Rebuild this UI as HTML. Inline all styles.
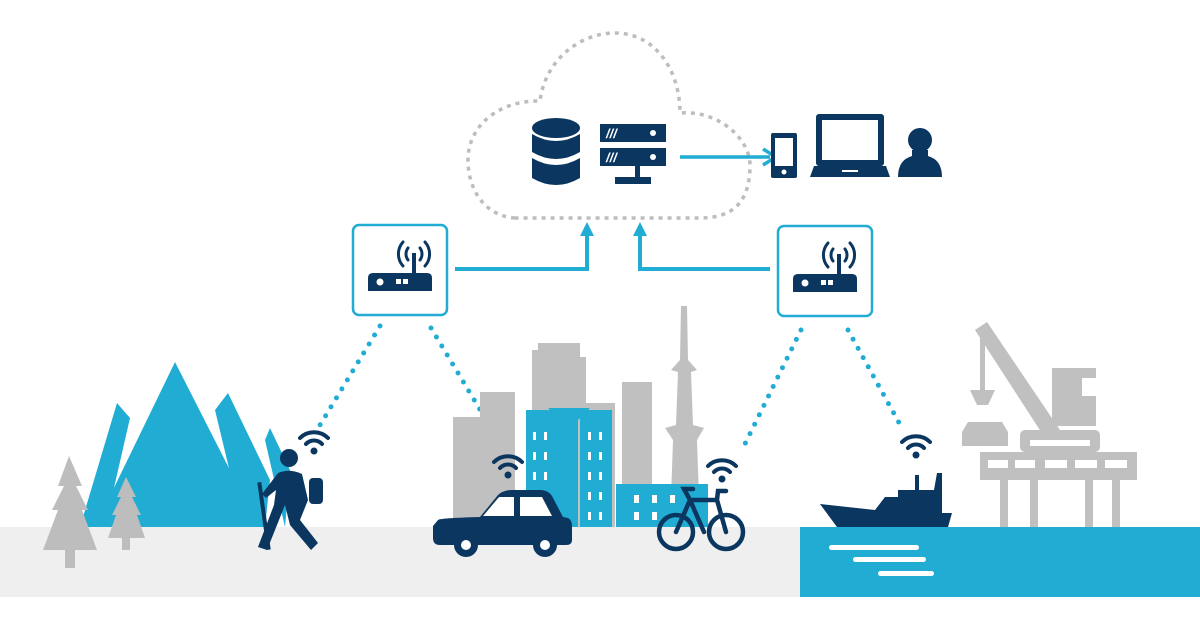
<!DOCTYPE html>
<html><head><meta charset="utf-8"><style>html,body{margin:0;padding:0;background:#fff}svg{display:block}</style></head>
<body>
<svg width="1200" height="630" viewBox="0 0 1200 630" xmlns="http://www.w3.org/2000/svg">
<defs>
<g id="wifi" fill="none" stroke="#0b3660" stroke-width="4" stroke-linecap="round">
<path d="M-14 -6 A20 20 0 0 1 14 -6"/><path d="M-8 0 A11 11 0 0 1 8 0"/>
<circle cx="0" cy="7" r="3.5" fill="#0b3660" stroke="none"/>
</g>
<g id="router">
<rect x="-47" y="-45" width="94" height="90" rx="6" fill="#fff" stroke="#21acd3" stroke-width="2.5"/>
<path d="M-32 8 Q-32 3 -27 3 L27 3 Q32 3 32 8 L32 21 L-32 21 Z" fill="#0b3660"/>
<circle cx="-20" cy="12" r="3.5" fill="#fff"/><rect x="-4" y="9" width="5" height="5" fill="#fff"/><rect x="3" y="9" width="5" height="5" fill="#fff"/>
<rect x="12" y="-17" width="4" height="20" fill="#0b3660"/>
<g fill="none" stroke="#0b3660" stroke-width="3" stroke-linecap="round">
<path d="M8 -22 A10 10 0 0 0 8 -10"/><path d="M20 -22 A10 10 0 0 1 20 -10"/>
<path d="M3 -28 A18 18 0 0 0 3 -4"/><path d="M25 -28 A18 18 0 0 1 25 -4"/>
</g>
</g>
</defs>
<rect x="0" y="527" width="800" height="70" fill="#efefef"/>
<path d="M515 218 C485 216 468 190 468 160 C468 125 500 100 540 101 C545 60 580 33 615 33 C655 33 680 70 680 113 C720 110 750 140 750 165 C750 200 735 218 700 218 Z" fill="none" stroke="#bdbdbd" stroke-width="3.5" stroke-dasharray="4 5"/>
<g fill="#0b3660">
<ellipse cx="556" cy="128" rx="24" ry="10"/>
<path d="M532 134 Q556 148 580 134 L580 152 Q556 166 532 152 Z"/>
<path d="M532 158 Q556 172 580 158 L580 178 Q556 192 532 178 Z"/>
<rect x="600" y="124" width="66" height="18"/><rect x="600" y="148" width="66" height="18"/>
<rect x="635" y="164" width="5" height="14"/><rect x="615" y="177" width="36" height="7"/>
</g>
<g fill="#fff"><circle cx="653" cy="133" r="3"/><circle cx="653" cy="157" r="3"/>
<text x="606" y="138" font-family="Liberation Sans,sans-serif" font-size="13" font-style="italic" font-weight="bold" fill="#fff">///</text>
<text x="606" y="162" font-family="Liberation Sans,sans-serif" font-size="13" font-style="italic" font-weight="bold" fill="#fff">///</text></g>
<line x1="680" y1="157" x2="770" y2="157" stroke="#21acd3" stroke-width="3.5"/>
<path d="M763 149 L776 157 L763 165" fill="none" stroke="#21acd3" stroke-width="3.5"/>
<rect x="771" y="133" width="26" height="45" rx="2" fill="#0b3660"/><rect x="775" y="138" width="18" height="28" fill="#fff"/><circle cx="784" cy="172" r="2.5" fill="#fff"/>
<rect x="816" y="114" width="68" height="52" rx="3" fill="#0b3660"/><rect x="822" y="120" width="56" height="40" fill="#fff"/>
<path d="M814 166 L886 166 L890 177 L810 177 Z" fill="#0b3660"/><rect x="842" y="170" width="16" height="2" fill="#fff"/>
<circle cx="920" cy="140" r="12" fill="#0b3660"/><path d="M912 150 L928 150 L928 156 Q942 160 942 177 L898 177 Q898 160 912 156 Z" fill="#0b3660"/>
<use href="#router" x="400" y="270"/>
<use href="#router" x="825" y="271"/>
<path d="M455 269 L587 269 L587 228" fill="none" stroke="#21acd3" stroke-width="4"/>
<path d="M580 236 L587 222 L594 236 Z" fill="#21acd3"/>
<path d="M770 269 L640 269 L640 228" fill="none" stroke="#21acd3" stroke-width="4"/>
<path d="M633 236 L640 222 L647 236 Z" fill="#21acd3"/>
<g stroke="#21acd3" stroke-width="5" stroke-linecap="round" stroke-dasharray="0 10.5">
<line x1="380" y1="326" x2="320" y2="425"/>
<line x1="431" y1="328" x2="503" y2="448"/>
<line x1="801" y1="330" x2="741" y2="452"/>
<line x1="848" y1="330" x2="903" y2="430"/>
</g>
<g fill="#21acd3">
<path d="M80 527 L117 403 L130 418 L105 527 Z"/>
<path d="M95 527 L175 362 L235 480 L240 527 Z"/>
<path d="M215 410 L228 393 L270 480 L265 527 L235 527 L233 485 Z"/>
<path d="M265 440 L270 428 L290 470 L285 527 Z"/>
</g>
<g fill="#bdbdbd">
<path d="M69 456 L82 486 L76 486 L88 510 L82 510 L97 550 L43 550 L58 510 L52 510 L64 486 L58 486 Z"/><rect x="65" y="548" width="10" height="20"/>
<path d="M126 477 L136 497 L132 497 L141 515 L137 515 L145 538 L108 538 L116 515 L112 515 L121 497 L117 497 Z"/><rect x="122" y="536" width="8" height="14"/>
</g>
<g fill="#0b3660">
<circle cx="289" cy="458" r="9"/>
<path d="M278 473 Q290 468 302 474 L308 500 L300 520 L318 543 L311 550 L290 525 L285 505 L277 525 L267 550 L258 547 L274 505 L276 490 L266 498 L262 494 Z"/>
<rect x="309" y="478" width="14" height="26" rx="4"/>
<rect x="262" y="482" width="4" height="68" transform="rotate(-8 264 516)"/>
</g>
<use href="#wifi" x="314" y="444"/>
<g fill="#c0c0c0">
<rect x="453" y="417" width="35" height="110"/>
<rect x="480" y="392" width="35" height="135"/>
<rect x="532" y="350" width="30" height="177"/><rect x="538" y="343" width="42" height="15"/><rect x="532" y="357" width="54" height="170"/>
<rect x="575" y="403" width="40" height="124"/>
<rect x="622" y="382" width="30" height="145"/>
<path d="M681 306 L687 306 L688 360 L697 370 L691 372 L693 425 L704 428 L697 440 L700 527 L670 527 L673 440 L665 428 L676 425 L678 372 L671 370 L680 360 Z"/>
</g>
<g fill="#21acd3">
<rect x="526" y="410" width="40" height="117"/>
<rect x="580" y="410" width="32" height="117"/>
<path d="M548 408 L590 408 L578 420 L578 527 L561 527 L561 420 Z"/>
<rect x="616" y="484" width="92" height="43"/>
</g>
<g fill="#fff">
<rect x="533" y="432" width="3" height="8"/><rect x="544" y="432" width="3" height="8"/>
<rect x="533" y="452" width="3" height="8"/><rect x="544" y="452" width="3" height="8"/>
<rect x="533" y="472" width="3" height="8"/><rect x="544" y="472" width="3" height="8"/>
<rect x="533" y="492" width="3" height="8"/><rect x="544" y="492" width="3" height="8"/>
<rect x="588" y="432" width="3" height="8"/><rect x="599" y="432" width="3" height="8"/>
<rect x="588" y="452" width="3" height="8"/><rect x="599" y="452" width="3" height="8"/>
<rect x="588" y="472" width="3" height="8"/><rect x="599" y="472" width="3" height="8"/>
<rect x="588" y="492" width="3" height="8"/><rect x="599" y="492" width="3" height="8"/>
<rect x="588" y="512" width="3" height="8"/><rect x="599" y="512" width="3" height="8"/>
<rect x="634" y="495" width="5" height="8"/><rect x="652" y="495" width="5" height="8"/><rect x="670" y="495" width="5" height="8"/>
<rect x="634" y="512" width="5" height="8"/><rect x="652" y="512" width="5" height="8"/>
</g>
<g fill="#0b3660">
<path d="M438 520 Q440 518 480 517 L498 495 Q503 490 512 490 L540 490 Q548 490 552 496 L563 517 L568 518 Q572 520 572 526 L572 540 Q572 545 566 545 L440 545 Q433 545 433 538 L433 526 Z"/>
<circle cx="466" cy="545" r="12"/><circle cx="545" cy="545" r="12"/>
</g>
<path d="M483 516 L499 497 L514 497 L514 516 Z M520 497 L542 497 L552 516 L520 516 Z" fill="#fff"/>
<circle cx="466" cy="545" r="5" fill="#fff"/><circle cx="545" cy="545" r="5" fill="#fff"/>
<use href="#wifi" x="508" y="468"/>
<g fill="none" stroke="#0b3660" stroke-width="4.5" stroke-linecap="round">
<circle cx="676" cy="532" r="17"/><circle cx="726" cy="532" r="17"/>
<path d="M676 532 L690 500 L717 500 L726 532 M690 500 L684 489 L693 489 M717 500 L718 491 L726 491 M704 532 L690 500"/>
</g>
<use href="#wifi" x="722" y="472"/>
<rect x="800" y="527" width="400" height="70" fill="#21acd3"/>
<g fill="#fff"><rect x="829" y="545" width="90" height="5" rx="2.5"/><rect x="853" y="557" width="73" height="5" rx="2.5"/><rect x="878" y="571" width="56" height="5" rx="2.5"/></g>
<g fill="#c0c0c0">
<rect x="1052" y="368" width="44" height="58"/>
<path d="M975 330 L987 322 L1060 430 L1045 438 Z"/>
<rect x="980" y="330" width="5" height="60"/>
<path d="M970 390 L995 390 L988 405 L977 405 Z"/>
<path d="M962 432 L1008 432 L1002 422 L968 422 Z"/><rect x="962" y="432" width="46" height="14"/>
<rect x="1020" y="430" width="80" height="22" rx="5"/>
<rect x="980" y="452" width="157" height="28"/>
<rect x="1000" y="480" width="8" height="47"/><rect x="1030" y="480" width="8" height="47"/><rect x="1085" y="480" width="8" height="47"/><rect x="1112" y="480" width="8" height="47"/>
</g>
<rect x="1082" y="378" width="18" height="18" fill="#fff"/>
<g fill="#fff"><rect x="988" y="460" width="20" height="8"/><rect x="1015" y="460" width="20" height="8"/><rect x="1045" y="460" width="22" height="8"/><rect x="1075" y="460" width="22" height="8"/><rect x="1105" y="460" width="22" height="8"/><rect x="1030" y="440" width="60" height="6"/></g>
<g fill="#0b3660">
<path d="M820 504 L875 510 L885 497 L898 497 L898 490 L915 490 L915 475 L919 475 L919 490 L934 490 L937 473 L942 473 L942 513 L952 513 L948 527 L837 527 Z"/>
</g>
<use href="#wifi" x="916" y="448"/>
</svg>
</body></html>
